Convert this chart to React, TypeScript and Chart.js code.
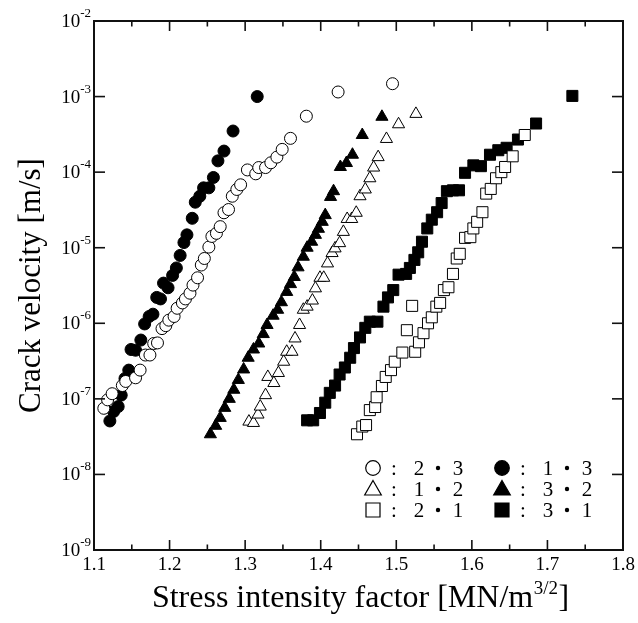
import { useEffect, useRef } from 'react';
import { Chart, registerables } from 'chart.js';

Chart.register(...registerables);

// ---- data (K in MN/m^3/2, crack velocity in m/s) ----
// ○ : 2・3
const s23X = [1.113, 1.118, 1.124, 1.1375, 1.142, 1.155, 1.161, 1.168, 1.174, 1.179, 1.184, 1.19, 1.195, 1.199, 1.206, 1.21, 1.217, 1.221, 1.227, 1.231, 1.237, 1.242, 1.246, 1.252, 1.256, 1.262, 1.267, 1.272, 1.278, 1.283, 1.289, 1.294, 1.303, 1.314, 1.318, 1.327, 1.334, 1.342, 1.349, 1.36, 1.381, 1.423, 1.495];
const s23Y = [7.5e-8, 9.7e-8, 1.17e-7, 1.5e-7, 1.7e-7, 1.9e-7, 2.4e-7, 3.8e-7, 3.8e-7, 5.4e-7, 5.5e-7, 8.5e-7, 9.3e-7, 1.1e-6, 1.23e-6, 1.58e-6, 1.86e-6, 2.1e-6, 2.5e-6, 3.2e-6, 4.0e-6, 5.9e-6, 7.2e-6, 1.02e-5, 1.41e-5, 1.55e-5, 1.9e-5, 2.9e-5, 3.2e-5, 4.8e-5, 5.9e-5, 6.8e-5, 1.07e-4, 9.5e-5, 1.15e-4, 1.15e-4, 1.33e-4, 1.58e-4, 2.0e-4, 2.8e-4, 5.5e-4, 1.15e-3, 1.48e-3];

// ● : 1・3
const s13X = [1.121, 1.126, 1.132, 1.136, 1.141, 1.146, 1.149, 1.155, 1.162, 1.167, 1.173, 1.178, 1.183, 1.188, 1.192, 1.198, 1.204, 1.209, 1.214, 1.219, 1.223, 1.23, 1.234, 1.24, 1.245, 1.252, 1.258, 1.264, 1.272, 1.284, 1.316];
const s13Y = [5.1e-8, 6.8e-8, 7.9e-8, 1.12e-7, 1.86e-7, 2.4e-7, 4.5e-7, 4.4e-7, 6.0e-7, 9.8e-7, 1.23e-6, 1.32e-6, 2.2e-6, 2.1e-6, 3.4e-6, 2.95e-6, 4.3e-6, 5.4e-6, 7.9e-6, 1.17e-5, 1.48e-5, 2.45e-5, 4.0e-5, 4.8e-5, 6.2e-5, 6.2e-5, 8.5e-5, 1.41e-4, 1.9e-4, 3.5e-4, 1.0e-3];

// △ : 1・2
const s12X = [1.305, 1.311, 1.317, 1.32, 1.327, 1.33, 1.338, 1.344, 1.351, 1.355, 1.362, 1.366, 1.372, 1.377, 1.382, 1.389, 1.393, 1.399, 1.404, 1.409, 1.415, 1.419, 1.425, 1.43, 1.435, 1.441, 1.447, 1.452, 1.459, 1.465, 1.47, 1.476, 1.487, 1.503, 1.526];
const s12Y = [5.0e-8, 4.8e-8, 6.2e-8, 7.9e-8, 1.12e-7, 1.95e-7, 1.62e-7, 2.2e-7, 3.1e-7, 4.2e-7, 4.2e-7, 6.3e-7, 9.5e-7, 1.51e-6, 1.66e-6, 2.0e-6, 2.9e-6, 4.0e-6, 4.0e-6, 6.2e-6, 8.5e-6, 9.8e-6, 1.15e-5, 1.62e-5, 2.4e-5, 2.4e-5, 2.9e-5, 4.8e-5, 5.9e-5, 8.3e-5, 1.15e-4, 1.58e-4, 2.75e-4, 4.3e-4, 5.9e-4];

// ▲ : 3・2
const s32X = [1.254, 1.261, 1.267, 1.273, 1.279, 1.285, 1.291, 1.298, 1.304, 1.311, 1.318, 1.324, 1.329, 1.337, 1.343, 1.348, 1.355, 1.36, 1.365, 1.37, 1.377, 1.382, 1.388, 1.393, 1.397, 1.402, 1.406, 1.413, 1.417, 1.426, 1.434, 1.442, 1.455, 1.481];
const s32Y = [3.4e-8, 4.4e-8, 5.6e-8, 7.6e-8, 1.0e-7, 1.32e-7, 1.78e-7, 2.45e-7, 3.5e-7, 4.5e-7, 5.4e-7, 7.2e-7, 9.5e-7, 1.26e-6, 1.51e-6, 1.9e-6, 2.6e-6, 3.3e-6, 4.1e-6, 5.5e-6, 7.6e-6, 1.0e-5, 1.2e-5, 1.48e-5, 1.78e-5, 2.2e-5, 2.7e-5, 4.7e-5, 5.6e-5, 1.17e-4, 1.32e-4, 1.7e-4, 3.1e-4, 5.4e-4];

// □ : 2・1
const s21X = [1.448, 1.455, 1.46, 1.465, 1.472, 1.474, 1.481, 1.486, 1.493, 1.498, 1.508, 1.514, 1.521, 1.525, 1.53, 1.536, 1.542, 1.547, 1.553, 1.558, 1.563, 1.569, 1.575, 1.58, 1.584, 1.591, 1.598, 1.602, 1.607, 1.614, 1.619, 1.625, 1.632, 1.639, 1.644, 1.654, 1.67];
const s21Y = [3.4e-8, 4.3e-8, 4.5e-8, 7.1e-8, 7.8e-8, 1.05e-7, 1.48e-7, 1.95e-7, 2.4e-7, 3.1e-7, 4.1e-7, 8.1e-7, 1.7e-6, 4.2e-7, 5.6e-7, 7.4e-7, 1.0e-6, 1.2e-6, 1.66e-6, 1.86e-6, 2.75e-6, 3.0e-6, 4.5e-6, 7.2e-6, 8.3e-6, 1.35e-5, 1.38e-5, 1.8e-5, 2.2e-5, 2.95e-5, 5.2e-5, 6.0e-5, 8.3e-5, 1.0e-4, 1.17e-4, 1.62e-4, 3.1e-4];

// ■ : 3・1
const s31X = [1.382, 1.39, 1.399, 1.406, 1.412, 1.419, 1.425, 1.432, 1.439, 1.444, 1.452, 1.459, 1.465, 1.475, 1.483, 1.489, 1.496, 1.503, 1.513, 1.518, 1.524, 1.529, 1.534, 1.541, 1.547, 1.554, 1.56, 1.567, 1.575, 1.583, 1.591, 1.602, 1.612, 1.624, 1.635, 1.646, 1.661, 1.685, 1.733];
const s31Y = [5.2e-8, 5.2e-8, 6.5e-8, 8.9e-8, 1.2e-7, 1.5e-7, 2.1e-7, 2.6e-7, 3.5e-7, 4.7e-7, 6.5e-7, 8.7e-7, 1.05e-6, 1.05e-6, 1.66e-6, 2.2e-6, 2.75e-6, 4.4e-6, 4.5e-6, 5.4e-6, 6.9e-6, 8.7e-6, 1.2e-5, 1.8e-5, 2.35e-5, 2.95e-5, 3.9e-5, 5.6e-5, 5.75e-5, 5.75e-5, 9.8e-5, 1.23e-4, 1.2e-4, 1.7e-4, 1.95e-4, 2.1e-4, 2.7e-4, 4.4e-4, 1.02e-3];

// ---- axes ----
const xMajorTicks = [1.1, 1.2, 1.3, 1.4, 1.5, 1.6, 1.7, 1.8];
const xMinorTicks = [1.15, 1.25, 1.35, 1.45, 1.55, 1.65, 1.75];
const xTickLabels = ['1.1', '1.2', '1.3', '1.4', '1.5', '1.6', '1.7', '1.8'];
const yTicks = [1e-9, 1e-8, 1e-7, 1e-6, 1e-5, 1e-4, 1e-3, 1e-2];
const yTickExponents = ['-9', '-8', '-7', '-6', '-5', '-4', '-3', '-2'];

const xTitle = 'Stress intensity factor [MN/m';
const xTitleSup = '3/2';
const xTitleEnd = ']';
const yTitle = 'Crack velocity [m/s]';

// legend: [symbol, filled, label]
const legendLeft = [['circle', false, '2・3'], ['triangle', false, '1・2'], ['rect', false, '2・1']];
const legendRight = [['circle', true, '1・3'], ['triangle', true, '3・2'], ['rect', true, '3・1']];

const SERIF = '"Liberation Serif", "DejaVu Serif", serif';

function drawSymbol(ctx: CanvasRenderingContext2D, kind: string, filled: boolean, x: number, y: number) {
  ctx.beginPath();
  if (kind === 'circle') {
    ctx.arc(x, y, 7.3, 0, Math.PI * 2);
  } else if (kind === 'triangle') {
    ctx.moveTo(x, y - 8.5);
    ctx.lineTo(x + 8.3, y + 6);
    ctx.lineTo(x - 8.3, y + 6);
    ctx.closePath();
  } else {
    ctx.rect(x - 7, y - 7, 14, 14);
  }
  ctx.lineWidth = 1.2;
  ctx.strokeStyle = '#000';
  ctx.fillStyle = filled ? '#000' : '#fff';
  ctx.fill();
  ctx.stroke();
}

const paperAxes = {
  id: 'paperAxes',
  afterDatasetsDraw(chart: any) {
    const { ctx, chartArea: a, scales } = chart;
    const xs = scales.x;
    const ys = scales.y;
    ctx.save();
    ctx.strokeStyle = '#111';
    ctx.fillStyle = '#000';

    // frame
    ctx.lineWidth = 2;
    ctx.strokeRect(a.left, a.top, a.right - a.left, a.bottom - a.top);

    const seg = (x1: number, y1: number, x2: number, y2: number) => {
      ctx.beginPath();
      ctx.moveTo(x1, y1);
      ctx.lineTo(x2, y2);
      ctx.stroke();
    };

    ctx.lineWidth = 1.6;
    xMajorTicks.forEach((v) => {
      const px = xs.getPixelForValue(v);
      seg(px, a.bottom, px, a.bottom - 10);
      seg(px, a.top, px, a.top + 10);
    });
    xMinorTicks.forEach((v) => {
      const px = xs.getPixelForValue(v);
      seg(px, a.bottom, px, a.bottom - 5.5);
      seg(px, a.top, px, a.top + 5.5);
    });
    yTicks.forEach((v) => {
      const py = ys.getPixelForValue(v);
      seg(a.left, py, a.left + 11, py);
      seg(a.right, py, a.right - 11, py);
    });

    // x tick labels
    ctx.font = '19px ' + SERIF;
    ctx.textAlign = 'center';
    ctx.textBaseline = 'alphabetic';
    xMajorTicks.forEach((v, i) => {
      ctx.fillText(xTickLabels[i], xs.getPixelForValue(v), a.bottom + 20);
    });

    // y tick labels: 10 with superscript exponent
    yTicks.forEach((v, i) => {
      const py = ys.getPixelForValue(v);
      ctx.font = '13px ' + SERIF;
      const supW = ctx.measureText(yTickExponents[i]).width;
      const right = a.left - 3;
      ctx.textAlign = 'left';
      ctx.fillText(yTickExponents[i], right - supW, py - 4);
      ctx.font = '19px ' + SERIF;
      ctx.textAlign = 'right';
      ctx.fillText('10', right - supW, py + 6);
    });

    // axis titles
    ctx.font = '32px ' + SERIF;
    ctx.textAlign = 'left';
    const w1 = ctx.measureText(xTitle).width;
    const w3 = ctx.measureText(xTitleEnd).width;
    ctx.font = '19px ' + SERIF;
    const w2 = ctx.measureText(xTitleSup).width;
    const total = w1 + w2 + w3 + 1;
    const cx = (a.left + a.right) / 2 + 2;
    let sx = cx - total / 2;
    const by = 607;
    ctx.font = '32px ' + SERIF;
    ctx.fillText(xTitle, sx, by);
    sx += w1;
    ctx.font = '19px ' + SERIF;
    ctx.fillText(xTitleSup, sx + 0.5, by - 13);
    sx += w2 + 1;
    ctx.font = '32px ' + SERIF;
    ctx.fillText(xTitleEnd, sx, by);

    ctx.save();
    ctx.translate(32, (a.top + a.bottom) / 2);
    ctx.rotate(-Math.PI / 2);
    ctx.textAlign = 'center';
    ctx.textBaseline = 'middle';
    ctx.font = '31px ' + SERIF;
    ctx.fillText(yTitle, 0, 0);
    ctx.restore();

    // legend
    const rows = [468, 489, 510];
    const cols: [number, any[]][] = [[373, legendLeft], [502, legendRight]];
    cols.forEach(([x0, entries]) => {
      entries.forEach((e: any, r: number) => {
        const y = rows[r];
        drawSymbol(ctx, e[0], e[1], x0, y);
        ctx.fillStyle = '#000';
        ctx.textAlign = 'center';
        ctx.textBaseline = 'alphabetic';
        ctx.font = '21px ' + SERIF;
        ctx.fillText(':', x0 + 21, y + 7);
        const chars = Array.from(e[2] as string);
        ctx.fillText(chars[0], x0 + 46, y + 7);
        ctx.beginPath();
        ctx.arc(x0 + 65, y, 2.2, 0, Math.PI * 2);
        ctx.fill();
        ctx.fillText(chars[2], x0 + 85, y + 7);
      });
    });

    ctx.restore();
  },
};

function series(xs: number[], ys: number[], style: string, filled: boolean, radius: number) {
  return {
    data: xs.map((x, i) => ({ x, y: ys[i] })),
    pointStyle: style,
    pointRadius: radius,
    pointHoverRadius: radius,
    backgroundColor: filled ? '#000' : '#fff',
    borderColor: '#000',
    borderWidth: 1,
    showLine: false,
  };
}

export default function App() {
  const ref = useRef<HTMLCanvasElement>(null);
  useEffect(() => {
    if (!ref.current) return;
    const chart = new Chart(ref.current, {
      type: 'scatter',
      data: {
        datasets: [
          series(s23X, s23Y, 'circle', false, 6) as any,
          series(s13X, s13Y, 'circle', true, 6) as any,
          series(s12X, s12Y, 'triangle', false, 7) as any,
          series(s32X, s32Y, 'triangle', true, 7) as any,
          series(s21X, s21Y, 'rect', false, 7.8) as any,
          series(s31X, s31Y, 'rect', true, 7.8) as any,
        ],
      },
      options: {
        responsive: false,
        animation: false,
        events: [],
        layout: { padding: { left: 94, top: 21, right: 15, bottom: 73 } },
        plugins: { legend: { display: false }, tooltip: { enabled: false } },
        scales: {
          x: { type: 'linear', min: 1.1, max: 1.8, display: false },
          y: { type: 'logarithmic', min: 1e-9, max: 1e-2, display: false },
        },
      },
      plugins: [paperAxes],
    });
    return () => chart.destroy();
  }, []);
  return (
    <div style={{ position: 'fixed', left: 0, top: 0, width: 638, height: 623, background: '#fff' }}>
      <canvas ref={ref} width={638} height={623} />
    </div>
  );
}
